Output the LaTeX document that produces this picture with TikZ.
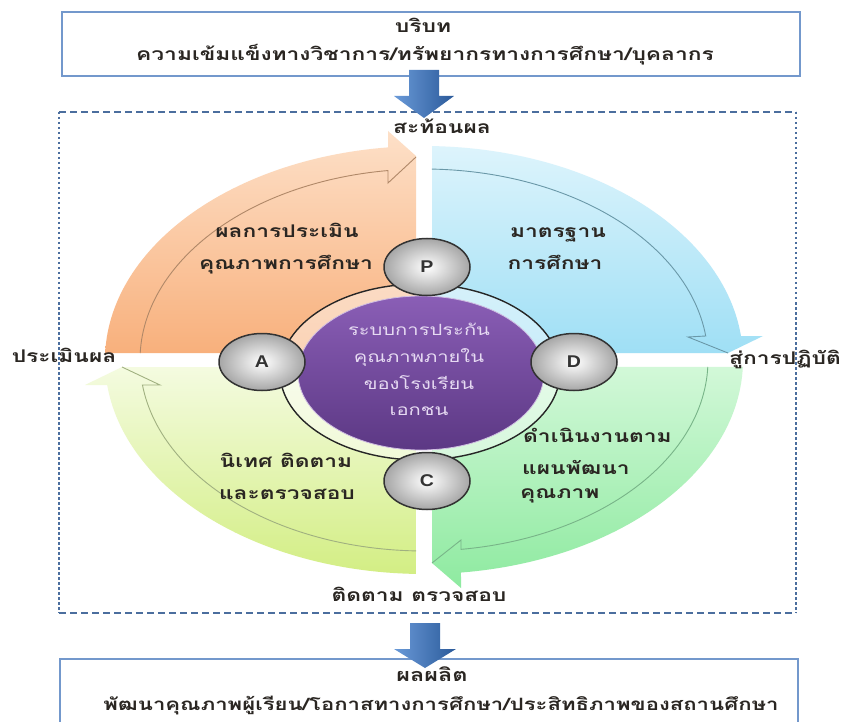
\documentclass[tikz,border=0pt]{standalone}
\usepackage{fontspec}
\newfontfamily\thai[Script=Thai,FakeStretch=1.3]{Loma}
\newfontfamily\latinb[FakeStretch=1.15]{Liberation Sans}
\usetikzlibrary{shapes.geometric}
\definecolor{orangeT}{HTML}{FDE0C8}
\definecolor{orangeB}{HTML}{F8B07C}
\definecolor{orangeL}{HTML}{B08868}
\definecolor{blueT}{HTML}{DDF4FC}
\definecolor{blueB}{HTML}{9FDFF5}
\definecolor{blueL}{HTML}{6A98A8}
\definecolor{ygT}{HTML}{F4FBE0}
\definecolor{ygB}{HTML}{D3EE84}
\definecolor{ygL}{HTML}{A0B080}
\definecolor{grT}{HTML}{D2F8D8}
\definecolor{grB}{HTML}{8EEAA0}
\definecolor{grL}{HTML}{78B488}
\definecolor{purT}{HTML}{8A5EB6}
\definecolor{purB}{HTML}{5C3884}
\definecolor{boxc}{HTML}{7398CC}
\definecolor{dashc}{HTML}{4B6E9E}
\definecolor{arrL}{HTML}{6A9AD8}
\definecolor{arrR}{HTML}{2B5A9A}
\definecolor{txtc}{HTML}{2A2622}
\definecolor{ctrtxt}{HTML}{E6DAF2}
\begin{document}
\begin{tikzpicture}[x=1pt,y=-1pt,
  lbl/.style={font=\thai\bfseries\fontsize{17.5}{20}\selectfont, text=txtc, inner sep=0pt, text height=1.6ex, text depth=.3ex},
  ctr/.style={font=\thai\fontsize{15.5}{18}\selectfont, text=ctrtxt, inner sep=0pt, text height=1.6ex, text depth=.3ex},
  pdca/.style={ellipse, draw=black!80, line width=1.5pt, minimum width=86pt, minimum height=57pt,
    inner color=white, outer color=black!35, font=\latinb\bfseries\fontsize{17}{20}\selectfont, text=black!80},
  boxline/.style={draw=boxc, line width=1.6pt},
  qline/.style={line width=0.9pt},
  hdash/.style={draw=dashc, line width=1.4pt, dash pattern=on 7pt off 4pt},
  vdash/.style={draw=dashc, line width=1.4pt, dash pattern=on 2.5pt off 2.5pt}]
\useasboundingbox (0,0) rectangle (841,722);
\fill[white] (0,0) rectangle (841,722);
% top box
\draw[boxline] (62,12) rectangle (800,76);
\node[lbl] (ctxA) at (423,30) {บริบท};
\node[lbl] (ctxB) at (425,58) {ความเข้มแข็งทางวิชาการ/ทรัพยากรทางการศึกษา/บุคลากร};
% quadrants
\shade[top color=orangeT,bottom color=orangeB]
  (416,353) -- plot[domain=178.13:96.48,samples=60,variable=\q] ({424+319*cos(\q)},{360-214*sin(\q)})
  -- (388,131) -- (416,156) -- cycle;
\shade[top color=blueT,bottom color=blueB]
  (432,353) -- plot[domain=88.56:6.44,samples=60,variable=\q] ({424+319*cos(\q)},{360-214*sin(\q)})
  -- (763,336) -- (728,353) -- cycle;
\shade[top color=grT,bottom color=grB]
  (432,367) -- plot[domain=-1.87:-83.34,samples=60,variable=\q] ({424+319*cos(\q)},{360-214*sin(\q)})
  -- (461,588) -- (432,563) -- cycle;
\shade[top color=ygT,bottom color=ygB]
  (416,367) -- plot[domain=268.56:186.71,samples=60,variable=\q] ({424+319*cos(\q)},{360-214*sin(\q)})
  -- (85,385) -- (122,367) -- cycle;
% inner lines
\draw[qline,orangeL] plot[domain=177.9:97.28,samples=60,variable=\q] ({424+284*cos(\q)},{360-191*sin(\q)}) -- (388,183) -- (416,157);
\draw[qline,blueL] plot[domain=88.39:7.22,samples=60,variable=\q] ({424+284*cos(\q)},{360-191*sin(\q)}) -- (688,337) -- (728,353);
\draw[qline,grL] plot[domain=-2.1:-82.51,samples=60,variable=\q] ({424+284*cos(\q)},{360-191*sin(\q)}) -- (461,540) -- (432,563);
\draw[qline,ygL] plot[domain=268.39:187.52,samples=60,variable=\q] ({424+284*cos(\q)},{360-191*sin(\q)}) -- (160,385) -- (122,367);
% ring and centre
\draw[line width=1.4pt, black!85, fill=white, fill opacity=0.45] (420,372) ellipse [x radius=140, y radius=88];
\shade[top color=purT,bottom color=purB] (421,373) ellipse [x radius=123, y radius=77];
\draw[line width=0.8pt, white!60!purT] (421,373) ellipse [x radius=123, y radius=77];
\node[ctr] (c1) at (419,333) {ระบบการประกัน};
\node[ctr] (c2) at (419,360) {คุณภาพภายใน};
\node[ctr] (c3) at (419,387) {ของโรงเรียน};
\node[ctr] (c4) at (419,413) {เอกชน};
% PDCA
\node[pdca] (P) at (427,267) {P};
\node[pdca] (D) at (574,362) {D};
\node[pdca] (C) at (427,481) {C};
\node[pdca] (A) at (262,362) {A};
% quadrant labels
\node[lbl] (q1a) at (287,235) {ผลการประเมิน};
\node[lbl] (q1b) at (286,267) {คุณภาพการศึกษา};
\node[lbl] (q2a) at (558,235) {มาตรฐาน};
\node[lbl] (q2b) at (555,267) {การศึกษา};
\node[lbl] (q3a) at (286,465) {นิเทศ ติดตาม};
\node[lbl] (q3b) at (287,497) {และตรวจสอบ};
\node[lbl,anchor=west] (q4a) at (523,440) {ดำเนินงานตาม};
\node[lbl,anchor=west] (q4b) at (522,472) {แผนพัฒนา};
\node[lbl,anchor=west] (q4c) at (520,496) {คุณภาพ};
% dashed frame
\draw[hdash] (59,112) -- (796,112);
\draw[hdash] (59,613) -- (796,613);
\draw[vdash] (59,112) -- (59,613);
\draw[vdash] (796,112) -- (796,613);
% axis labels
\node[lbl] (refl) at (442,131) {สะท้อนผล};
\node[lbl] (eval) at (64,360) {ประเมินผล};
\node[lbl,anchor=west] (prac) at (729,362) {สู่การปฏิบัติ};
\node[lbl] (moni) at (419,599) {ติดตาม ตรวจสอบ};
% bottom box
\draw[boxline] (60,659) rectangle (798,740);
\node[lbl,font=\thai\bfseries\fontsize{18}{20}\selectfont] (outA) at (432,679) {ผลผลิต};
\node[lbl,font=\thai\bfseries\fontsize{17}{20}\selectfont] (outB) at (441,708) {พัฒนาคุณภาพผู้เรียน/โอกาสทางการศึกษา/ประสิทธิภาพของสถานศึกษา};
% block arrows
\shade[left color=arrL,right color=arrR] (409,70) -- (439,70) -- (439,96) -- (454,96) -- (424,118) -- (394,96) -- (409,96) -- cycle;
\shade[left color=arrL,right color=arrR] (410,623) -- (440,623) -- (440,649) -- (456,649) -- (425,668) -- (394,649) -- (410,649) -- cycle;
\end{tikzpicture}
\end{document}
